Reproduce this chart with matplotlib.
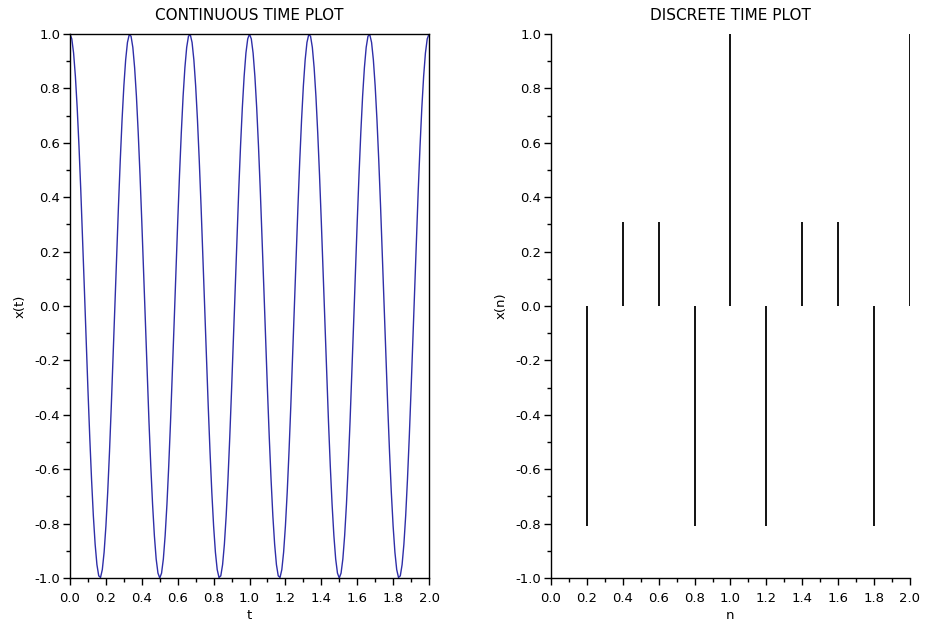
import numpy as np
import matplotlib as mpl
mpl.use('Agg')
import matplotlib.pyplot as plt
from matplotlib.ticker import MultipleLocator, AutoMinorLocator, FormatStrFormatter

# continuous signal, sampled every 0.01 s
t = np.arange(201) * 0.01
x_t = [1.000, 0.982, 0.930, 0.844, 0.729, 0.588, 0.426, 0.249, 0.063, -0.125,
       -0.309, -0.482, -0.637, -0.771, -0.876, -0.951, -0.992, -0.998, -0.969, -0.905,
       -0.809, -0.685, -0.536, -0.368, -0.187, 0.000, 0.187, 0.368, 0.536, 0.685,
       0.809, 0.905, 0.969, 0.998, 0.992, 0.951, 0.876, 0.771, 0.637, 0.482,
       0.309, 0.125, -0.063, -0.249, -0.426, -0.588, -0.729, -0.844, -0.930, -0.982,
       -1.000, -0.982, -0.930, -0.844, -0.729, -0.588, -0.426, -0.249, -0.063, 0.125,
       0.309, 0.482, 0.637, 0.771, 0.876, 0.951, 0.992, 0.998, 0.969, 0.905,
       0.809, 0.685, 0.536, 0.368, 0.187, 0.000, -0.187, -0.368, -0.536, -0.685,
       -0.809, -0.905, -0.969, -0.998, -0.992, -0.951, -0.876, -0.771, -0.637, -0.482,
       -0.309, -0.125, 0.063, 0.249, 0.426, 0.588, 0.729, 0.844, 0.930, 0.982,
       1.000, 0.982, 0.930, 0.844, 0.729, 0.588, 0.426, 0.249, 0.063, -0.125,
       -0.309, -0.482, -0.637, -0.771, -0.876, -0.951, -0.992, -0.998, -0.969, -0.905,
       -0.809, -0.685, -0.536, -0.368, -0.187, 0.000, 0.187, 0.368, 0.536, 0.685,
       0.809, 0.905, 0.969, 0.998, 0.992, 0.951, 0.876, 0.771, 0.637, 0.482,
       0.309, 0.125, -0.063, -0.249, -0.426, -0.588, -0.729, -0.844, -0.930, -0.982,
       -1.000, -0.982, -0.930, -0.844, -0.729, -0.588, -0.426, -0.249, -0.063, 0.125,
       0.309, 0.482, 0.637, 0.771, 0.876, 0.951, 0.992, 0.998, 0.969, 0.905,
       0.809, 0.685, 0.536, 0.368, 0.187, 0.000, -0.187, -0.368, -0.536, -0.685,
       -0.809, -0.905, -0.969, -0.998, -0.992, -0.951, -0.876, -0.771, -0.637, -0.482,
       -0.309, -0.125, 0.063, 0.249, 0.426, 0.588, 0.729, 0.844, 0.930, 0.982,
       1.000]

# discrete samples
n = [0.0, 0.2, 0.4, 0.6, 0.8, 1.0, 1.2, 1.4, 1.6, 1.8, 2.0]
x_n = [1.0, -0.809, 0.309, 0.309, -0.809, 1.0, -0.809, 0.309, 0.309, -0.809, 1.0]

plt.rcParams['font.family'] = 'DejaVu Sans'
plt.rcParams['font.size'] = 9.5

fig = plt.figure(figsize=(9.26, 6.3), dpi=100)
ax1 = fig.add_axes([0.0756, 0.0825, 0.3877, 0.8635])
ax2 = fig.add_axes([0.595, 0.0825, 0.3877, 0.8635])

def style(ax):
    ax.set_xlim(0, 2)
    ax.set_ylim(-1, 1)
    ax.xaxis.set_major_locator(MultipleLocator(0.2))
    ax.yaxis.set_major_locator(MultipleLocator(0.2))
    ax.xaxis.set_minor_locator(AutoMinorLocator(2))
    ax.yaxis.set_minor_locator(AutoMinorLocator(2))
    ax.xaxis.set_major_formatter(FormatStrFormatter('%.1f'))
    ax.yaxis.set_major_formatter(FormatStrFormatter('%.1f'))
    ax.tick_params(which='major', direction='out', length=5, width=1, labelsize=9.5, pad=2)
    ax.tick_params(axis='x', which='major', pad=5)
    ax.tick_params(which='minor', direction='out', length=3, width=1)
    for s in ax.spines.values():
        s.set_linewidth(1)

ax1.plot(t, x_t, color='#2e2ea8', linewidth=1)
style(ax1)
ax1.set_title('CONTINUOUS TIME PLOT', fontsize=11, pad=10)
ax1.set_xlabel('t', labelpad=3)
ax1.set_ylabel('x(t)', labelpad=6)

ax2.vlines(n, 0, x_n, color='black', linewidth=1.3)
style(ax2)
ax2.spines['top'].set_visible(False)
ax2.spines['right'].set_visible(False)
ax2.set_title('DISCRETE TIME PLOT', fontsize=11, pad=10)
ax2.set_xlabel('n', labelpad=3)
ax2.set_ylabel('x(n)', labelpad=6)

fig.savefig('out.png', dpi=100)
